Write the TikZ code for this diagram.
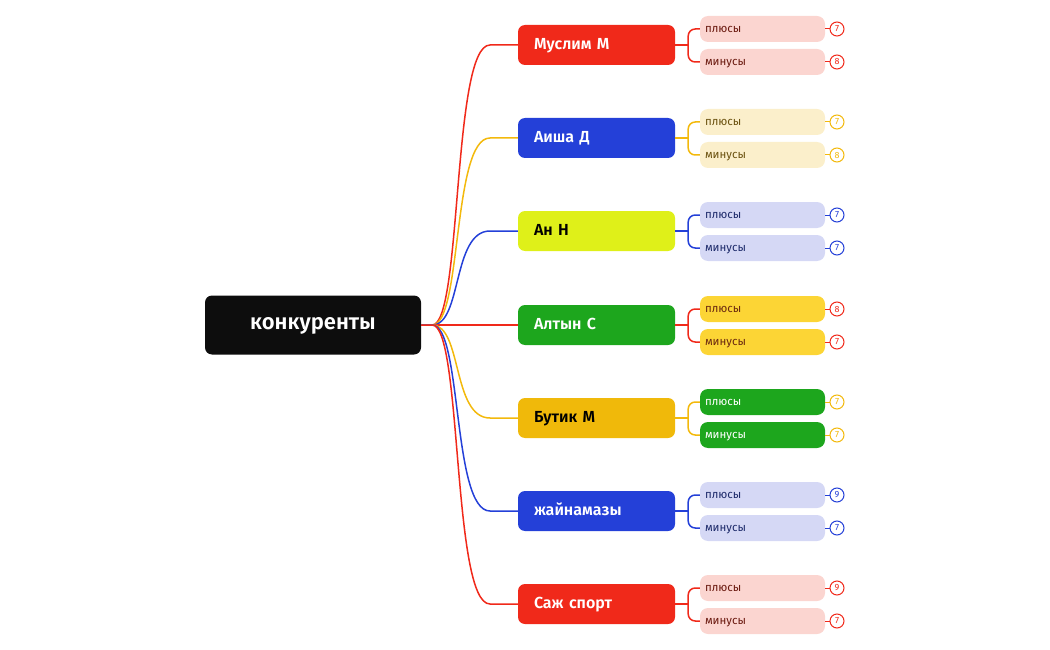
\documentclass[tikz,border=0pt]{standalone}
\usepackage{fontspec}
\setmainfont{Fira Sans}
\newfontfamily\heavy{Fira Sans SemiBold}
\definecolor{cred}{HTML}{F0291A}
\definecolor{cblue}{HTML}{2440D8}
\definecolor{cyel}{HTML}{F3B90C}
\definecolor{clime}{HTML}{DFF019}
\definecolor{cgreen}{HTML}{1DA61D}
\definecolor{camber}{HTML}{F0B90A}
\definecolor{lpink}{HTML}{FBD5D0}
\definecolor{tpink}{HTML}{6B1A10}
\definecolor{lcream}{HTML}{FBEFCB}
\definecolor{tcream}{HTML}{6B5210}
\definecolor{llav}{HTML}{D5D8F5}
\definecolor{tlav}{HTML}{1E2B6B}
\definecolor{lyel}{HTML}{FCD535}
\definecolor{tyel}{HTML}{6B2A10}
\tikzset{
 rootbox/.style={fill=black!95,rounded corners=7pt,minimum width=216pt,minimum height=59pt,text height=1.7ex,text depth=0ex,text=white,font=\heavy\fontsize{22}{24}\selectfont},
 branchbox/.style={rounded corners=7pt,minimum width=157pt,minimum height=40pt,text width=125pt,text height=1.6ex,text depth=0ex,align=left,font=\heavy\fontsize{16}{18}\selectfont},
 leafbox/.style={rounded corners=8pt,minimum width=125pt,minimum height=26pt,text width=115pt,text height=1.3ex,text depth=0ex,align=left,font=\fontsize{11.5}{13}\selectfont},
 badge/.style={circle,draw,line width=1pt,fill=white,minimum size=14pt,inner sep=0pt,font=\fontsize{9}{10}\selectfont},
 conn/.style={line width=1.5pt},
}
\begin{document}
\begin{tikzpicture}[x=1pt,y=-1pt]
\useasboundingbox (0,0) rectangle (1050,650);
\node[rootbox] (root) at (313,325) {конкуренты};
\foreach \i/\y/\name/\bf/\bt/\lc/\lf/\lt/\ba/\bb in {
 1/45/Муслим М/cred/white/cred/lpink/tpink/7/8,
 2/138/Аиша Д/cblue/white/cyel/lcream/tcream/7/8,
 3/231/Ан Н/clime/black/cblue/llav/tlav/7/7,
 4/325/Алтын С/cgreen/white/cred/lyel/tyel/8/7,
 5/418/Бутик М/camber/black/cyel/cgreen/white/7/7,
 6/511/жайнамазы/cblue/white/cblue/llav/tlav/9/7,
 7/604/Саж спорт/cred/white/cred/lpink/tpink/9/7}{
 \node[branchbox,fill=\bf,text=\bt] (b\i) at (596.5,\y) {\name};
 \node[leafbox,fill=\lf,text=\lt] (p\i) at (762.5,\y-16) {плюсы};
 \node[leafbox,fill=\lf,text=\lt] (m\i) at (762.5,\y+17) {минусы};
 \node[badge,draw=\lc,text=\lc] (pa\i) at (837,\y-16) {\ba};
 \node[badge,draw=\lc,text=\lc] (ma\i) at (837,\y+17) {\bb};
 \draw[conn,draw=\lc] (root.east) -- ++(11,0) .. controls +(30,0) and (452,\y) .. (490,\y) -- (b\i.west);
 \draw[conn,draw=\lc] (b\i.east) -- ++(13,0);
 \draw[conn,draw=\lc,rounded corners=7pt] (p\i.west) -| ([xshift=13]b\i.east) |- (m\i.west);
 \draw[line width=1pt,draw=\lc] (p\i.east) -- (pa\i.west);
 \draw[line width=1pt,draw=\lc] (m\i.east) -- (ma\i.west);
}
\end{tikzpicture}
\end{document}
